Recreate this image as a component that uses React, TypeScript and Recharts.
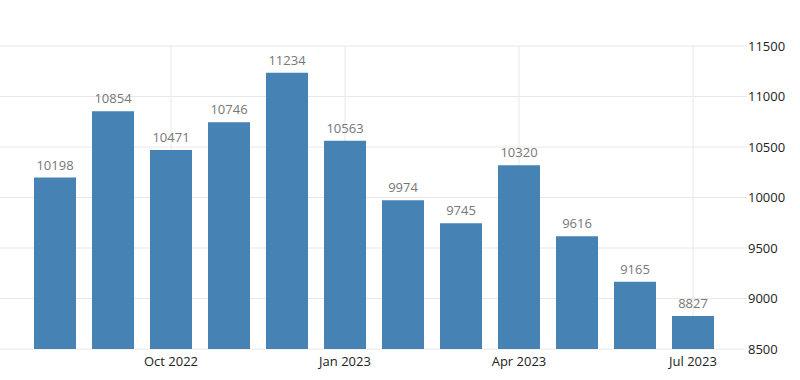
import { BarChart, Bar, XAxis, YAxis, CartesianGrid, LabelList } from "recharts";

const months = [
  "Aug 2022",
  "Sep 2022",
  "Oct 2022",
  "Nov 2022",
  "Dec 2022",
  "Jan 2023",
  "Feb 2023",
  "Mar 2023",
  "Apr 2023",
  "May 2023",
  "Jun 2023",
  "Jul 2023",
];

const values = [10198, 10854, 10471, 10746, 11234, 10563, 9974, 9745, 10320, 9616, 9165, 8827];

const xLabels = ["Oct 2022", "Jan 2023", "Apr 2023", "Jul 2023"];

const yTicks = [8500, 9000, 9500, 10000, 10500, 11000, 11500];

const data = months.map((m, i) => ({ month: m, value: values[i] }));

const FONT = "'Open Sans', sans-serif";
const GRID = "#e8e8e8";

function MonthTick({ x, y, payload }: any) {
  if (!xLabels.includes(payload.value)) return null;
  return (
    <text x={x} y={y} dy={17} textAnchor="middle" fontSize={13} fill="#222" fontFamily={FONT}>
      {payload.value}
    </text>
  );
}

export default function App() {
  return (
    <div style={{ position: "absolute", left: 0, top: 0, background: "#fff" }}>
      <BarChart
        width={800}
        height={380}
        data={data}
        margin={{ top: 46, right: 0, left: 0, bottom: 0 }}
      >
        <CartesianGrid stroke={GRID} syncWithTicks />
        <XAxis
          dataKey="month"
          height={31}
          interval={0}
          ticks={xLabels}
          axisLine={false}
          tickLine={false}
          tickSize={0}
          tickMargin={0}
          padding={{ left: 26, right: 25 }}
          tick={<MonthTick />}
        />
        <YAxis
          orientation="right"
          width={53}
          domain={[8500, 11500]}
          ticks={yTicks}
          axisLine={false}
          tickLine={false}
          tickSize={0}
          tickMargin={1}
          tick={{ fontSize: 13, fill: "#222", fontFamily: FONT, textAnchor: "start" }}
        />
        <Bar dataKey="value" fill="#4682b4" barSize={42} isAnimationActive={false}>
          <LabelList
            dataKey="value"
            position="top"
            offset={8}
            style={{ fontSize: 13, fill: "#777", fontFamily: FONT }}
          />
        </Bar>
      </BarChart>
    </div>
  );
}
